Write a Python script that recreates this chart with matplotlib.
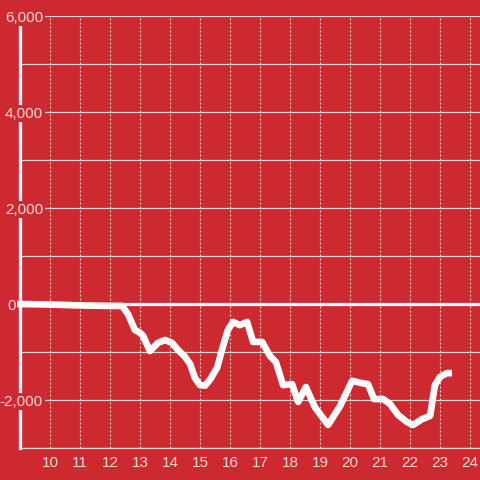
import matplotlib
matplotlib.use("Agg")
import matplotlib.pyplot as plt

plt.rcParams['font.family'] = ['Liberation Sans', 'DejaVu Sans']

# data: hour of day vs cumulative value
hours = [8.9, 10.0, 11.0, 12.0, 12.4, 12.6, 12.83, 13.0, 13.1, 13.33, 13.6, 13.83,
         14.07, 14.27, 14.5, 14.67, 14.83, 15.0, 15.17, 15.33, 15.57, 15.73, 15.93,
         16.1, 16.33, 16.57, 16.77, 17.07, 17.33, 17.53, 17.77, 18.07, 18.27, 18.53,
         18.83, 19.27, 19.67, 20.07, 20.4, 20.6, 20.8, 21.1, 21.33, 21.6, 21.9, 22.1,
         22.4, 22.67, 22.83, 23.0, 23.23, 23.4]
values = [0, -10, -30, -40, -40, -210, -540, -600, -660, -980, -810, -750,
          -810, -960, -1100, -1250, -1540, -1690, -1700, -1580, -1330, -960, -540,
          -375, -440, -375, -790, -790, -1080, -1210, -1690, -1670, -2040, -1730,
          -2150, -2520, -2125, -1600, -1650, -1670, -1980, -1980, -2080, -2310, -2460, -2520,
          -2400, -2330, -1690, -1520, -1440, -1440]

x_ticks = list(range(10, 25))
y_label_vals = [6000, 4000, 2000, 0, -2000]
y_label_txt = ['6,000', '4,000', '2,000', '0', '-2,000']
y_grid = list(range(-3000, 6001, 1000))

RED = '#cc2a30'
TXT = '#f4d6d7'
GRID = '#d6d6d6'

fig = plt.figure(figsize=(4.8, 4.8), dpi=100, facecolor=RED)
ax = fig.add_axes([20/480, 32/480, 460/480, 432/480])
ax.set_facecolor(RED)
ax.set_xlim(9.0, 24.333)
ax.set_ylim(-3000, 6000)
ax.set_axisbelow(True)

ax.set_xticks(x_ticks)
ax.set_xticklabels([str(t) for t in x_ticks])
ax.set_yticks(y_grid)
ax.set_yticklabels([])
ax.tick_params(axis='both', length=0)
ax.tick_params(axis='x', pad=6, labelsize=11, labelcolor=TXT)

ax.grid(axis='y', color=GRID, linewidth=0.9, linestyle='-')
ax.grid(axis='x', color=GRID, linewidth=0.8, linestyle=(0, (1.8, 1.8)))

for s in ['top', 'right']:
    ax.spines[s].set_visible(False)
ax.spines['bottom'].set_color(GRID)
ax.spines['bottom'].set_linewidth(0.9)
ax.spines['left'].set_color('#f2f2f2')
ax.spines['left'].set_linewidth(2.4)
ax.spines['left'].set_bounds(-3000, 5830)

ytr = ax.get_yaxis_transform()
for v, t in zip(y_label_vals, y_label_txt):
    xpos = (15.5 - 20) / 460 if v == 0 else (43 - 20) / 460
    ax.text(xpos, v, t, transform=ytr, ha='right', va='center_baseline', fontsize=11,
            color=TXT, zorder=3, clip_on=False,
            bbox=dict(facecolor=RED, edgecolor='none', pad=1.2))

ax.axhline(0, color='white', linewidth=2.3, zorder=3.5)
ax.plot(hours, values, color='white', linewidth=4.8, solid_joinstyle='round',
        solid_capstyle='butt', zorder=4, clip_on=False)

fig.savefig('out.png', dpi=100, facecolor=RED)
